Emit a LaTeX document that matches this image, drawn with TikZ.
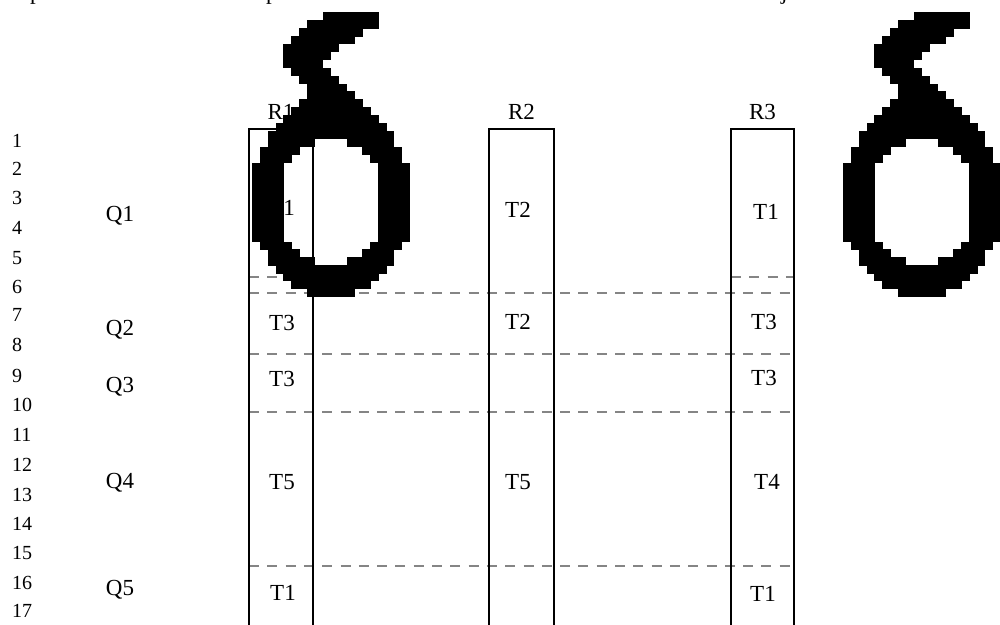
\documentclass[tikz,border=0pt]{standalone}
\usepackage{fontspec}
\setmainfont{Liberation Serif}
\usepackage{tikz}

\begin{document}
\begin{tikzpicture}[x=1pt,y=-1pt,
  lbl/.style={inner sep=0pt,font=\fontsize{23}{26}\selectfont},
  rownum/.style={inner sep=0pt,anchor=west,font=\fontsize{20}{24}\selectfont},
  resbox/.style={line width=1.8pt},
  slot/.style={black!48,line width=1.8pt,dash pattern=on 10pt off 8.3pt},
  pix/.style={fill=black}]
  \useasboundingbox (0,0) rectangle (1000,624);
  % Cut-off text line above
  \node[lbl,anchor=base west] (fragA) at (30,-1) {p};
  \node[lbl,anchor=base west] (fragB) at (266,-1) {p};
  \node[lbl,anchor=base west] (fragC) at (781,-1) {j};
  % Row numbers
  \foreach \n/\y in {1/141,2/169,3/198,4/228,5/258,6/287,7/315,8/345,9/376,
      10/405,11/435,12/465,13/495,14/524,15/553,16/583,17/611}
    \node[rownum] (row\n) at (12,\y) {\n};
  % Slot labels
  \foreach \n/\y in {1/216,2/330,3/387,4/483,5/590}
    \node[lbl] (Q\n) at (120,\y) {Q\n};
  % Slot boundaries
  \draw[slot] (249,277) -- (313,277);
  \draw[slot] (731,277) -- (794,277);
  \foreach \y in {293,354,412,566}
    \draw[slot] (249,\y) -- (794,\y);
  % Resource columns
  \foreach \name/\xl/\xr in {R1/249/313,R2/489/554,R3/731/794} {
    \draw[resbox] (\xl,632) |- (\xr,129) -- (\xr,632);
    \node[lbl] (\name) at ({(\xl+\xr)/2},112) {\name};
  }
  % Tasks in R1
  \node[lbl] (a1) at (282,208) {T1};
  \node[lbl] (a2) at (282,323) {T3};
  \node[lbl] (a3) at (282,379) {T3};
  \node[lbl] (a4) at (282,482) {T5};
  \node[lbl] (a5) at (283,593) {T1};
  % Tasks in R2
  \node[lbl] (b1) at (518,210) {T2};
  \node[lbl] (b2) at (518,322) {T2};
  \node[lbl] (b3) at (518,482) {T5};
  % Tasks in R3
  \node[lbl] (c1) at (766,212) {T1};
  \node[lbl] (c2) at (764,322) {T3};
  \node[lbl] (c3) at (764,378) {T3};
  \node[lbl] (c4) at (767,482) {T4};
  \node[lbl] (c5) at (763,594) {T1};
  % Pixel deltas on top
  \foreach \dx in {252,843}
    \foreach \ra/\rb/\ca/\cb in {-6/-6/9/15,-5/-5/7/15,-4/-4/6/13,-3/-3/5/12,
        -2/-2/4/10,-1/-1/4/9,0/0/4/8,1/1/5/9,2/2/6/10,3/3/7/11,4/4/7/12,
        5/5/6/13,6/6/5/14,7/7/4/15,8/8/3/16,9/9/2/17,10/10/2/7,10/10/12/17,
        11/11/1/5,11/11/14/18,12/12/1/4,12/12/15/18,13/22/0/3,13/22/16/19,
        23/23/1/4,23/23/15/18,24/24/2/5,24/24/14/17,25/25/2/7,25/25/12/17,
        26/26/3/16,27/27/4/15,28/28/5/14,29/29/7/12}
      \fill[pix] ({\dx+\ca*7.9-0.2},{60+\ra*7.9-0.2})
        rectangle ({\dx+(\cb+1)*7.9+0.2},{60+(\rb+1)*7.9+0.2});
\end{tikzpicture}
\end{document}
